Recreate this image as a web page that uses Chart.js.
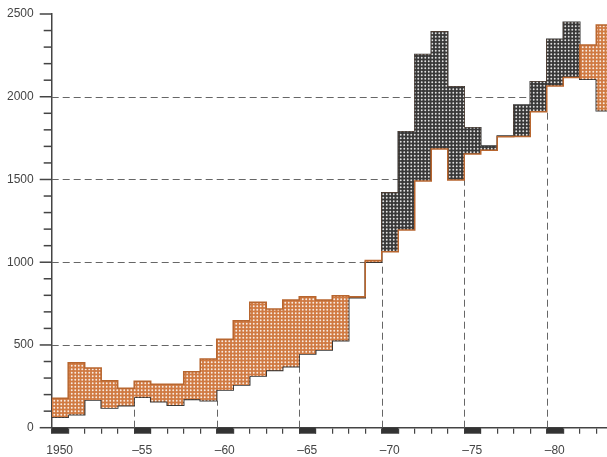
<!DOCTYPE html>
<html>
<head>
<meta charset="utf-8">
<script src="https://cdn.jsdelivr.net/npm/chart.js@4/dist/chart.umd.min.js"></script>
<style>
  html, body { margin: 0; padding: 0; background: #fff; }
  #wrap { width: 607px; height: 457px; position: relative; }
</style>
</head>
<body>
<div id="wrap"><canvas id="chart"></canvas></div>
<script>
( function () {
	'use strict';

	// ----------------------------------------------------------------
	// Data
	// ----------------------------------------------------------------
	var YEARS = [
		1950, 1951, 1952, 1953, 1954, 1955, 1956, 1957, 1958, 1959,
		1960, 1961, 1962, 1963, 1964, 1965, 1966, 1967, 1968, 1969,
		1970, 1971, 1972, 1973, 1974, 1975, 1976, 1977, 1978, 1979,
		1980, 1981, 1982, 1983
	];

	// orange outline series
	var SERIES_A = [
		178, 393, 361, 284, 238, 280, 262, 262, 338, 415,
		534, 647, 758, 717, 772, 792, 772, 798, 792, 1010,
		1064, 1195, 1491, 1684, 1497, 1654, 1677, 1758, 1759, 1910,
		2065, 2117, 2313, 2434
	];

	// dark outline series
	var SERIES_B = [
		63, 78, 167, 119, 133, 184, 157, 135, 171, 163,
		228, 258, 312, 345, 369, 445, 470, 526, 785, 1000,
		1420, 1789, 2256, 2393, 2061, 1813, 1702, 1762, 1950, 2091,
		2347, 2450, 2105, 1916
	];

	var GRID_LEVELS = [ 500, 1000, 1500, 2000 ];
	var MARK_YEARS  = [ 1950, 1955, 1960, 1965, 1970, 1975, 1980 ];
	var MARK_LABELS = [ '1950', '\u201355', '\u201360', '\u201365', '\u201370', '\u201375', '\u201380' ];

	var INK  = '#444';
	var FONT = { family: '"Liberation Sans", Arial, sans-serif', size: 12 };

	// ----------------------------------------------------------------
	// Helpers
	// ----------------------------------------------------------------
	function toPoints( vals ) {
		var pts = YEARS.map( function ( y, i ) { return { x: y, y: vals[ i ] }; } );
		pts.push( { x: YEARS[ YEARS.length - 1 ] + 1, y: vals[ vals.length - 1 ] } );
		return pts;
	}

	function dotPattern( base ) {
		var c = document.createElement( 'canvas' );
		c.width = 7; c.height = 7;
		var g = c.getContext( '2d' );
		g.fillStyle = base;
		g.fillRect( 0, 0, 7, 7 );
		g.fillStyle = 'rgba(255,255,255,0.85)';
		[ [ 1.75, 1.75 ], [ 5.25, 1.75 ], [ 1.75, 5.25 ], [ 5.25, 5.25 ] ].forEach( function ( p ) {
			g.beginPath();
			g.arc( p[0], p[1], 0.95, 0, Math.PI * 2 );
			g.fill();
		} );
		return g.createPattern( c, 'repeat' );
	}

	var orangeFill = dotPattern( '#d07a42' );
	var darkFill   = dotPattern( '#383838' );

	// ----------------------------------------------------------------
	// Plugin: dashed guides above the data, tick marks, year blocks
	// ----------------------------------------------------------------
	var decor = {
		id: 'decor',
		beforeDatasetsDraw: function ( chart ) {
			var ctx = chart.ctx, xs = chart.scales.x, ys = chart.scales.y;
			ctx.save();
			ctx.strokeStyle = '#666';
			ctx.lineWidth = 1;
			ctx.setLineDash( [ 7, 4 ] );

			// horizontal guides only where the data stays below the level
			GRID_LEVELS.forEach( function ( lvl ) {
				var py = Math.round( ys.getPixelForValue( lvl ) ) + 0.5;
				var start = null;
				for ( var i = 0; i <= YEARS.length; i++ ) {
					var below = i < YEARS.length && Math.max( SERIES_A[i], SERIES_B[i] ) < lvl;
					if ( below && start === null ) { start = YEARS[i]; }
					if ( ! below && start !== null ) {
						ctx.beginPath();
						ctx.moveTo( xs.getPixelForValue( start ), py );
						ctx.lineTo( xs.getPixelForValue( YEARS[i] ), py );
						ctx.stroke();
						start = null;
					}
				}
			} );

			// vertical guides from the axis up to the data
			MARK_YEARS.forEach( function ( yr ) {
				var i = YEARS.indexOf( yr );
				if ( i < 1 ) { return; }
				var top = Math.min( SERIES_A[i - 1], SERIES_B[i - 1], SERIES_A[i], SERIES_B[i] );
				var px = Math.round( xs.getPixelForValue( yr ) ) + 0.5;
				ctx.beginPath();
				ctx.moveTo( px, ys.getPixelForValue( 0 ) );
				ctx.lineTo( px, ys.getPixelForValue( top ) );
				ctx.stroke();
			} );
			ctx.restore();
		},
		afterDraw: function ( chart ) {
			var ctx = chart.ctx, xs = chart.scales.x, ys = chart.scales.y;
			var ax = chart.chartArea.left, ay = ys.getPixelForValue( 0 );
			ctx.save();
			ctx.strokeStyle = INK;
			ctx.lineWidth = 1.5;
			for ( var v = 0; v <= 2500; v += 100 ) {
				var py = ys.getPixelForValue( v );
				ctx.beginPath();
				ctx.moveTo( ax - ( v % 500 === 0 ? 12 : 8 ), py );
				ctx.lineTo( ax, py );
				ctx.stroke();
			}
			ctx.fillStyle = '#333';
			MARK_YEARS.forEach( function ( yr ) {
				var x0 = xs.getPixelForValue( yr ), x1 = xs.getPixelForValue( yr + 1 );
				ctx.fillRect( x0, ay, x1 - x0, 6 );
			} );
			ctx.restore();
		}
	};

	// ----------------------------------------------------------------
	// Chart
	// ----------------------------------------------------------------
	new Chart( document.getElementById( 'chart' ), {
		type: 'line',
		data: {
			datasets: [ {
				label       : 'A',
				data        : toPoints( SERIES_A ),
				stepped     : true,
				borderColor : '#b8662f',
				borderWidth : 1.5,
				pointRadius : 0,
				fill        : { target: 1, above: orangeFill, below: darkFill },
			}, {
				label       : 'B',
				data        : toPoints( SERIES_B ),
				stepped     : true,
				borderColor : '#333',
				borderWidth : 1.5,
				pointRadius : 0,
				fill        : false,
			} ]
		},
		options: {
			responsive          : true,
			maintainAspectRatio : false,
			animation           : false,
			layout  : { padding: { top: 14, right: 0, bottom: 0, left: 0 } },
			plugins : { legend: { display: false }, tooltip: { enabled: false } },
			scales  : {
				x: {
					type   : 'linear',
					min    : 1950,
					max    : 1983.65,
					border : { display: true, color: INK, width: 1.5 },
					grid   : { drawOnChartArea: false, drawTicks: true, tickLength: 6, color: INK, lineWidth: 1.2 },
					ticks  : {
						stepSize      : 1,
						includeBounds : false,
						autoSkip      : false,
						maxRotation   : 0,
						labelOffset   : 8,
						padding       : 10,
						color         : INK,
						font          : FONT,
						callback      : function ( v ) {
							var k = MARK_YEARS.indexOf( v );
							return k < 0 ? '' : MARK_LABELS[ k ];
						}
					},
					afterFit: function ( s ) {
						s.height = 29.3;
						s.paddingLeft = 0;
						s.paddingRight = 0;
					}
				},
				y: {
					min    : 0,
					max    : 2500,
					border : { display: true, color: INK, width: 1.5 },
					grid   : { display: false, drawTicks: false },
					ticks  : {
						stepSize : 500,
						padding  : 18,
						color    : INK,
						font     : FONT,
						callback : function ( v ) { return String( v ); }
					},
					afterFit: function ( s ) {
						s.width = 51.7;
						s.paddingTop = 0;
						s.paddingBottom = 0;
					}
				}
			}
		},
		plugins: [ decor ]
	} );
}() );
</script>
</body>
</html>
